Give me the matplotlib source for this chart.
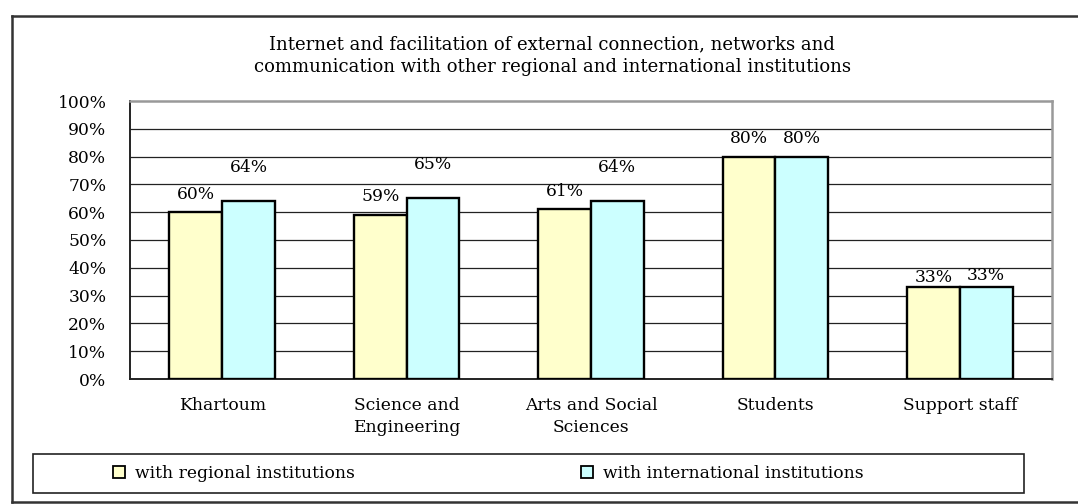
import matplotlib
matplotlib.use("Agg")
import matplotlib.pyplot as plt
import numpy as np
from matplotlib.lines import Line2D
from matplotlib.patches import Rectangle

# ---- data ----
categories = ['Khartoum', 'Science and\nEngineering', 'Arts and Social\nSciences',
              'Students', 'Support staff']
regional = [60, 59, 61, 80, 33]
international = [64, 65, 64, 80, 33]
series_names = ['with regional institutions', 'with international institutions']
title = ('Internet and facilitation of external connection, networks and\n'
         'communication with other regional and international institutions')
yticks = [0, 10, 20, 30, 40, 50, 60, 70, 80, 90, 100]

# ---- styling ----
plt.rcParams['font.family'] = ['DejaVu Serif']
W, H = 1078, 504
DPI = 100
col_reg = '#FFFFCC'
col_int = '#CCFFFF'
FS = 12.3

fig = plt.figure(figsize=(W / DPI, H / DPI), dpi=DPI)
fig.patch.set_facecolor('white')

def fx(px):
    return px / W

def fy(py):
    return 1 - py / H

# plot area (pixels): x 130..1052, y 101..379
ax = fig.add_axes([fx(130), fy(379), fx(1052) - fx(130), fy(101) - fy(379)])

x = np.arange(len(categories))
bw = 0.286
b1 = ax.bar(x - bw / 2, regional, bw, color=col_reg, edgecolor='black', linewidth=1.7, zorder=3,
            label=series_names[0])
b2 = ax.bar(x + bw / 2, international, bw, color=col_int, edgecolor='black', linewidth=1.7, zorder=3,
            label=series_names[1])

ax.set_xlim(-0.5, len(categories) - 0.5)
ax.set_ylim(0, 100)
ax.set_yticks(yticks)
ax.set_yticklabels([f'{v}%' for v in yticks], fontsize=FS)
ax.set_xticks(x)
ax.set_xticklabels(categories, fontsize=FS, linespacing=1.4)
ax.tick_params(axis='y', length=0, pad=17)
ax.tick_params(axis='x', length=0, pad=13)

for v in yticks[1:-1]:
    ax.axhline(v, color='#222222', linewidth=0.9, zorder=1)

for side in ['top', 'right']:
    ax.spines[side].set_color('#999999')
    ax.spines[side].set_linewidth(1.8)
ax.spines['left'].set_color('#222222')
ax.spines['left'].set_linewidth(1.4)
ax.spines['bottom'].set_color('#222222')
ax.spines['bottom'].set_linewidth(1.4)

# data labels (vertical offsets in pixels above bar top, to the label centre)
reg_dy = [18, 18, 18, 18, 10]
int_dy = [34, 34, 34, 18, 12]
for rect, v, dy in zip(b1, regional, reg_dy):
    ax.annotate(f'{v}%', (rect.get_x() + rect.get_width() / 2, v),
                xytext=(0, dy * 72 / DPI), textcoords='offset points',
                ha='center', va='center', fontsize=FS, zorder=5)
for rect, v, dy in zip(b2, international, int_dy):
    ax.annotate(f'{v}%', (rect.get_x() + rect.get_width() / 2, v),
                xytext=(0, dy * 72 / DPI), textcoords='offset points',
                ha='center', va='center', fontsize=FS, zorder=5)

# title
fig.text(fx(552), fy(55.5), title, ha='center', va='center', fontsize=13,
         multialignment='center', linespacing=1.35)

# legend box
fig.add_artist(Rectangle((fx(33), fy(493)), fx(1024) - fx(33), fy(454) - fy(493),
                         transform=fig.transFigure, facecolor='white',
                         edgecolor='#222222', linewidth=1.2, zorder=1))
leg1 = fig.legend([b1[0]], [series_names[0]], loc='center left',
                  bbox_to_anchor=(fx(113), fy(473)), frameon=False, fontsize=FS,
                  handlelength=0.7, handleheight=0.7, handletextpad=0.6, borderpad=0,
                  borderaxespad=0)
leg2 = fig.legend([b2[0]], [series_names[1]], loc='center left',
                  bbox_to_anchor=(fx(581), fy(473)), frameon=False, fontsize=FS,
                  handlelength=0.7, handleheight=0.7, handletextpad=0.6, borderpad=0,
                  borderaxespad=0)
for lg in (leg1, leg2):
    for h in lg.legend_handles:
        h.set_linewidth(1.3)

# outer chart frame (right side lies outside the image)
frame_kw = dict(transform=fig.transFigure, color='#333333', linewidth=1.8)
fig.add_artist(Line2D([fx(12.5), fx(12.5)], [fy(15.5), fy(501.5)], **frame_kw))
fig.add_artist(Line2D([fx(12.5), 1.0], [fy(15.5), fy(15.5)], **frame_kw))
fig.add_artist(Line2D([fx(12.5), 1.0], [fy(501.5), fy(501.5)], **frame_kw))

fig.savefig('out.png', dpi=DPI, facecolor='white')
